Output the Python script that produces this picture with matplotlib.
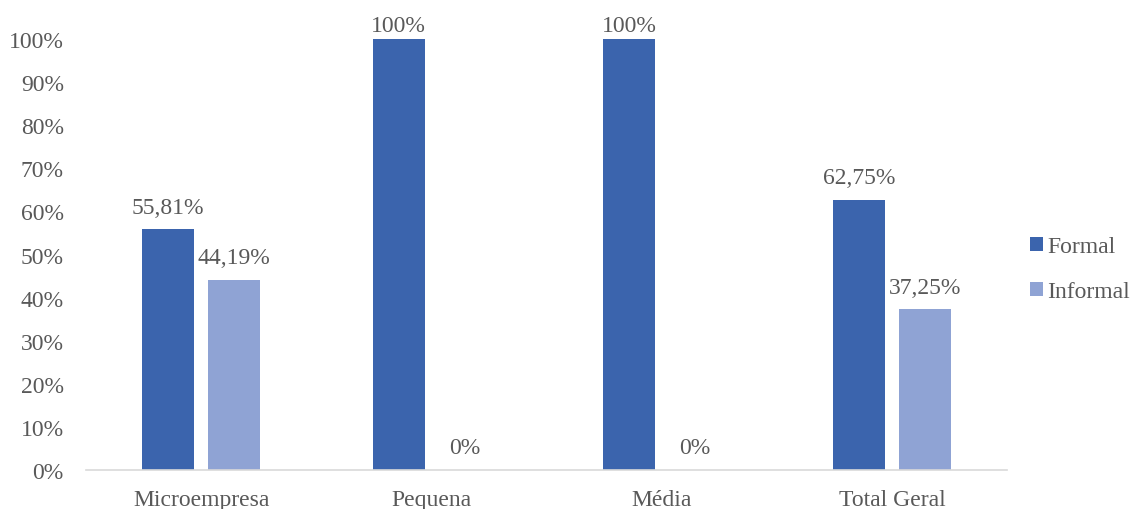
import numpy as np
import matplotlib
matplotlib.use('Agg')
import matplotlib.pyplot as plt
from matplotlib.ticker import PercentFormatter

plt.rcParams['font.family'] = ['Liberation Serif', 'DejaVu Serif']

categories = ['Microempresa', 'Pequena', 'Média', 'Total Geral']
formal = [55.81, 100, 100, 62.75]
informal = [44.19, 0, 0, 37.25]
formal_labels = ['55,81%', '100%', '100%', '62,75%']
informal_labels = ['44,19%', '0%', '0%', '37,25%']

c_formal = '#3B64AD'
c_informal = '#8FA3D4'
txt = '#595959'
fs = 17

fig = plt.figure(figsize=(11.32, 5.10), dpi=100)
ax = fig.add_axes([0.076, 0.0765, 0.814, 0.845])

x = np.arange(len(categories))
w = 0.226
off = 0.143
b1 = ax.bar(x - off, formal, w, color=c_formal, label='Formal')
b2 = ax.bar(x + off, informal, w, color=c_informal, label='Informal')

for bars, labels in [(b1, formal_labels), (b2, informal_labels)]:
    for rect, lab in zip(bars, labels):
        h = rect.get_height()
        # labels at the top edge get pushed down like in Excel
        dy = 3.9 if h < 95 else 1.75
        ax.text(rect.get_x() + rect.get_width()/2, h + dy, lab,
                ha='center', va='baseline', fontsize=fs, color=txt)

ax.set_xlim(-0.5, 3.5)
ax.set_ylim(0, 100)
ax.set_yticks(np.arange(0, 101, 10))
ax.yaxis.set_major_formatter(PercentFormatter(decimals=0))
ax.set_xticks(x)
ax.set_xticklabels(categories)
ax.tick_params(axis='both', length=0, labelsize=fs, colors=txt)
ax.tick_params(axis='x', pad=14)
ax.tick_params(axis='y', pad=16)
for s in ['top', 'right', 'left']:
    ax.spines[s].set_visible(False)
ax.spines['bottom'].set_color('#D9D9D9')
ax.spines['bottom'].set_linewidth(1.2)

leg = fig.legend(handles=[b1, b2], loc='center left', bbox_to_anchor=(0.891, 0.47),
                 frameon=False, fontsize=fs, handlelength=0.55, handleheight=0.55,
                 handletextpad=0.2, labelspacing=1.0)
for t in leg.get_texts():
    t.set_color(txt)

fig.savefig('out.png', dpi=100, facecolor='w')
